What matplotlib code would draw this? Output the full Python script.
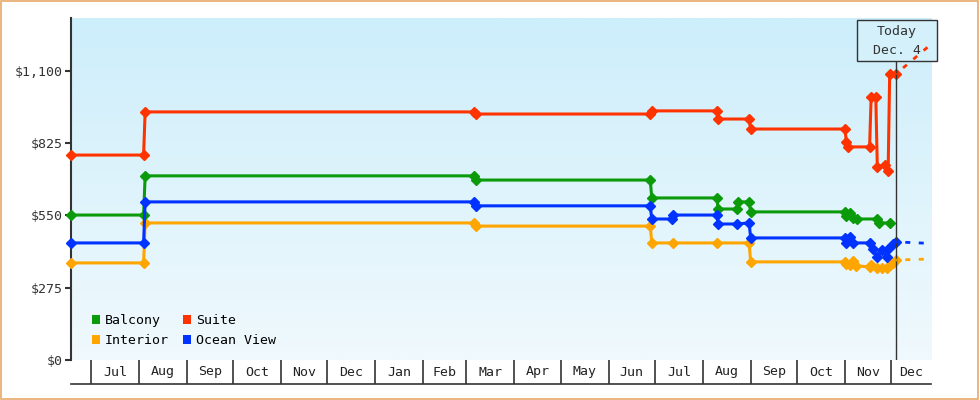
import numpy as np
import pandas as pd
import matplotlib
matplotlib.use("Agg")
import matplotlib.pyplot as plt
from matplotlib.patches import Rectangle, Patch
from matplotlib.colors import LinearSegmentedColormap

plt.rcParams['font.family'] = ['DejaVu Sans Mono', 'DejaVu Sans']
plt.rcParams['lines.scale_dashes'] = False

# price observations per cabin type (date, price)
suite_dates = ['2022-06-18', '2022-08-04', '2022-08-05', '2023-03-06', '2023-03-07', '2023-06-28',
               '2023-06-29', '2023-08-10', '2023-08-11', '2023-08-31', '2023-09-01', '2023-11-01',
               '2023-11-02', '2023-11-03', '2023-11-17', '2023-11-18', '2023-11-21', '2023-11-22',
               '2023-11-27', '2023-11-29', '2023-11-30', '2023-12-04']
suite_prices = [779, 779, 943, 943, 935, 935,
                947, 947, 916, 916, 878, 878,
                829, 810, 810, 1000, 1000, 734,
                741, 719, 1087, 1087]

balcony_dates = ['2022-06-18', '2022-08-04', '2022-08-05', '2023-03-06', '2023-03-07', '2023-06-28',
                 '2023-06-29', '2023-08-10', '2023-08-11', '2023-08-23', '2023-08-24', '2023-08-31',
                 '2023-09-01', '2023-11-01', '2023-11-02', '2023-11-04', '2023-11-06', '2023-11-09',
                 '2023-11-22', '2023-11-23', '2023-11-30']
balcony_prices = [551, 551, 700, 700, 684, 684,
                  616, 616, 574, 574, 601, 601,
                  563, 563, 548, 559, 540, 536,
                  536, 521, 521]

ocean_dates = ['2022-06-18', '2022-08-04', '2022-08-05', '2023-03-06', '2023-03-07', '2023-06-28',
               '2023-06-29', '2023-07-12', '2023-07-13', '2023-08-10', '2023-08-11', '2023-08-23',
               '2023-08-31', '2023-09-01', '2023-11-01', '2023-11-02', '2023-11-04', '2023-11-06',
               '2023-11-17', '2023-11-19', '2023-11-22', '2023-11-25', '2023-11-28', '2023-11-29',
               '2023-12-02', '2023-12-04']
ocean_prices = [445, 445, 601, 601, 586, 586,
                536, 536, 551, 551, 517, 517,
                521, 464, 464, 445, 468, 445,
                445, 422, 392, 418, 392, 422,
                441, 449]

interior_dates = ['2022-06-18', '2022-08-04', '2022-08-05', '2023-03-06', '2023-03-07', '2023-06-28',
                  '2023-06-29', '2023-07-13', '2023-08-10', '2023-08-31', '2023-09-01', '2023-11-01',
                  '2023-11-02', '2023-11-04', '2023-11-06', '2023-11-08', '2023-11-17', '2023-11-18',
                  '2023-11-22', '2023-11-25', '2023-11-28', '2023-11-30', '2023-12-02', '2023-12-04']
interior_prices = [369, 369, 521, 521, 509, 509,
                   445, 445, 445, 445, 373, 373,
                   365, 361, 376, 358, 354, 361,
                   350, 350, 350, 361, 369, 380]

# projected prices at the right edge
forecast = {'Suite': 1200, 'Ocean View': 443, 'Interior': 384}

today = pd.Timestamp('2023-12-04')
x_start = pd.Timestamp('2022-06-18')
x_end = pd.Timestamp('2023-12-26 18:00')

y_ticks = [0, 275, 550, 825, 1100]
y_labels = ['\\$0', '\\$275', '\\$550', '\\$825', '\\$1,100']

colors = {'Balcony': '#0a9a0a', 'Suite': '#ff3300', 'Interior': '#ffa500', 'Ocean View': '#0033ff'}

series = {
    'Interior': (interior_dates, interior_prices),
    'Balcony': (balcony_dates, balcony_prices),
    'Suite': (suite_dates, suite_prices),
    'Ocean View': (ocean_dates, ocean_prices),
}

fig = plt.figure(figsize=(9.8, 4.0), dpi=100)
ax = fig.add_axes([71/980, 40/400, 860/980, 342/400])
band = fig.add_axes([71/980, 16/400, 860/980, 24/400], sharex=ax)

# gradient background
bg = LinearSegmentedColormap.from_list('bg', ['#cdeefb', '#f0f9fd'])
ax.imshow(np.linspace(0, 1, 256).reshape(-1, 1), cmap=bg, aspect='auto',
          extent=[0, 1, 0, 1], transform=ax.transAxes, zorder=0)

for name, (d, p) in series.items():
    ax.plot(pd.to_datetime(d), p, color=colors[name], lw=2.2, marker='D', ms=4.8,
            mew=1, clip_on=False, zorder=3)
    if name in forecast:
        ax.plot([today, x_end], [p[-1], forecast[name]], color=colors[name], lw=2.0,
                linestyle=(2.9, (3.6, 6.1)), zorder=7)

ax.set_xlim(x_start, x_end)
ax.set_ylim(0, 1300)
ax.set_yticks(y_ticks)
ax.set_yticklabels(y_labels, fontsize=9.5, color='#333333')
ax.tick_params(axis='y', direction='out', length=4.3, width=1.5, color='#333333', pad=2)
ax.tick_params(axis='x', bottom=False, labelbottom=False)
for s in ['top', 'right', 'bottom']:
    ax.spines[s].set_visible(False)
ax.spines['left'].set_color('#333333')
ax.spines['left'].set_linewidth(1.5)
ax.spines['left'].set_zorder(2.5)

# today marker
box_bottom = (360 - 61) / 342
ax.axvline(today, 0, box_bottom, color='#333333', lw=1, zorder=4)
tx = (today - x_start) / (x_end - x_start)
ax.add_patch(Rectangle((tx - 39/860, box_bottom), 80/860, 41/342, transform=ax.transAxes,
                       facecolor='#d3f0fb', edgecolor='#333333', lw=1, clip_on=False, zorder=5))
ax.text(tx + 1/860, (360 - 32) / 342, 'Today', transform=ax.transAxes, ha='center', va='center',
        fontsize=9.5, color='#333333', zorder=6)
ax.text(tx + 1/860, (360 - 50) / 342, 'Dec. 4', transform=ax.transAxes, ha='center', va='center',
        fontsize=9.5, color='#333333', zorder=6)

# legend
order = ['Balcony', 'Interior', 'Suite', 'Ocean View']
handles = [Patch(facecolor=colors[n], edgecolor='none') for n in order]
ax.legend(handles, order, ncol=2, loc='upper left', bbox_to_anchor=(21/860, (360-314)/342),
          frameon=False, fontsize=9.5, handlelength=0.6, handleheight=0.6, handletextpad=0.4,
          columnspacing=1.05, labelspacing=0.55, borderpad=0, borderaxespad=0)

# month band
months = pd.date_range('2022-07-01', '2023-12-01', freq='MS')
band.vlines(months, 0, 1, color='#333333', lw=1.2)
edges = list(months) + [x_end]
for a, b in zip(edges[:-1], edges[1:]):
    mid = a + (b - a) / 2
    band.text(mid, 0.5, a.strftime('%b'), ha='center', va='center', fontsize=9.5, color='#222222')
band.set_xlim(x_start, x_end)
band.set_ylim(0, 1)
band.set_yticks([])
band.tick_params(axis='x', bottom=False, labelbottom=False)
band.patch.set_visible(False)
for s in ['top', 'right', 'left']:
    band.spines[s].set_visible(False)
band.spines['bottom'].set_color('#333333')
band.spines['bottom'].set_linewidth(1.2)

# outer border
fig.add_artist(Rectangle((0.5/980, 1.5/400), 977/980, 398/400, transform=fig.transFigure,
                         fill=False, edgecolor='#e8a868', lw=1.2))

fig.savefig('out.png', dpi=100)
